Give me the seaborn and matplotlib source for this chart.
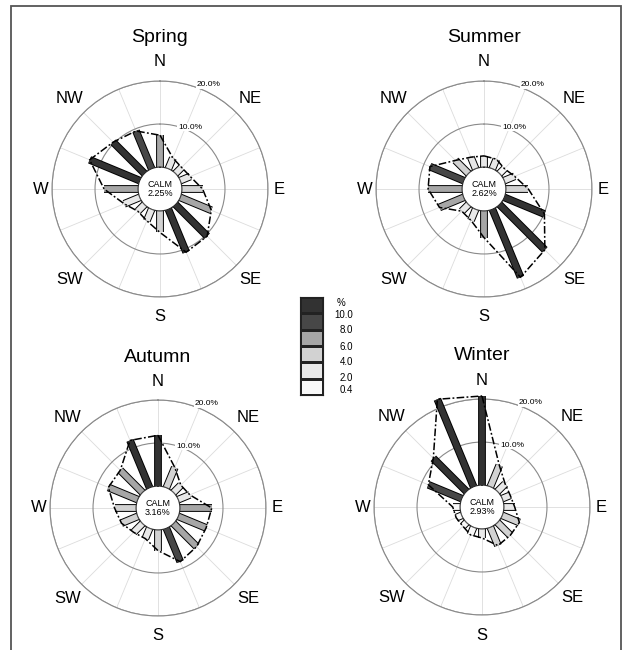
import numpy as np
import matplotlib
matplotlib.use("Agg")
import matplotlib.pyplot as plt
import matplotlib.patheffects as pe
from matplotlib.colors import ListedColormap
from matplotlib.patches import Rectangle
import seaborn as sns

# --- data (percent frequency per direction) ---
DIRECTIONS = ["N", "NNE", "NE", "ENE", "E", "ESE", "SE", "SSE",
              "S", "SSW", "SW", "WSW", "W", "WNW", "NW", "NNW"]
SEASONS = ["Spring", "Summer", "Autumn", "Winter"]
spring = [7.4, 2.7, 2.0, 2.5, 4.8, 7.8, 10.4, 10.8, 5.0, 2.9, 2.2, 3.9, 7.9, 12.6, 10.3, 9.5]
summer = [2.6, 2.4, 1.6, 2.6, 5.2, 10.1, 14.9, 17.1, 6.2, 2.8, 2.2, 6.1, 7.9, 8.5, 4.3, 2.9]
autumn = [11.8, 5.1, 2.4, 2.9, 7.4, 7.0, 7.6, 8.4, 4.8, 2.6, 2.9, 4.1, 5.0, 7.4, 7.3, 11.9]
winter = [20.7, 5.4, 2.5, 2.0, 2.5, 4.3, 4.2, 4.6, 2.1, 1.9, 1.2, 1.4, 1.7, 8.4, 10.9, 22.0]
calm = [2.25, 2.62, 3.16, 2.93]

COMPASS = ["N", "NE", "E", "SE", "S", "SW", "W", "NW"]
LEGEND_LABELS = ["10.0", "8.0", "6.0", "4.0", "2.0", "0.4"]
BIN_EDGES = [2, 4, 6, 8, 10]
SHADES = ["#f8f8f8", "#e8e8e8", "#d2d2d2", "#a6a6a6", "#474747", "#323232"]

# --- layout (pixels) ---
W, H = 633, 650
CENTERS = [(160, 189), (484, 189), (158, 508), (482, 507)]
R_PX = 108
R0 = 5.1  # calm hole expressed in % units
LABEL_DIST = [127, 128, 119, 128, 128, 128, 119, 128]


def shade(v):
    return SHADES[int(np.searchsorted(BIN_EDGES, v, side="right"))]


sns.set_style("white")
plt.rcParams["font.family"] = ["Liberation Sans", "DejaVu Sans"]
plt.rcParams["text.color"] = "black"

fig = plt.figure(figsize=(W / 100, H / 100), dpi=100)
fig.patch.set_facecolor("white")

theta = np.deg2rad(np.arange(16) * 22.5)
circle = np.linspace(0, 2 * np.pi, 361)

for (cx, cy), name, vals, c in zip(CENTERS, SEASONS, [spring, summer, autumn, winter], calm):
    ax = fig.add_axes([(cx - R_PX) / W, (H - cy - R_PX) / H, 2 * R_PX / W, 2 * R_PX / H],
                      projection="polar")
    ax.set_theta_zero_location("N")
    ax.set_theta_direction(-1)
    ax.set_rorigin(-R0)
    ax.set_ylim(0, 20)
    ax.set_xticks(theta)
    ax.set_xticklabels([])
    ax.set_yticks([10, 20])
    ax.set_yticklabels([])
    ax.set_axisbelow(True)
    ax.xaxis.grid(True, color="#dcdcdc", lw=0.6)
    ax.yaxis.grid(True, color="#8a8a8a", lw=0.8)
    ax.spines["polar"].set_color("#8a8a8a")
    ax.spines["polar"].set_linewidth(0.8)

    # bars
    for th, v in zip(theta, vals):
        ax.plot([th, th], [0, v], color=shade(v), lw=4.2, solid_capstyle="butt",
                zorder=4, clip_on=False,
                path_effects=[pe.Stroke(linewidth=5.6, foreground="black"), pe.Normal()])

    # envelope
    ax.plot(np.append(theta, theta[0]), np.append(vals, vals[0]), color="black",
            lw=1.1, ls=(0, (5, 1.5, 1.2, 1.5)), zorder=5, clip_on=False)

    # calm circle
    ax.plot(circle, np.zeros_like(circle), color="#333333", lw=0.8, zorder=6)
    ax.text(0.5, 0.5, f"CALM\n{c:.2f}%", transform=ax.transAxes, ha="center",
            va="center", fontsize=6.5, linespacing=1.1, zorder=7)

    # ring labels
    ax.text(np.deg2rad(26), 10.9, "10.0%", fontsize=6, ha="center", va="center",
            bbox=dict(fc="white", ec="none", pad=0.6), zorder=3)
    ax.text(np.deg2rad(25), 21.6, "20.0%", fontsize=6, ha="center", va="center",
            bbox=dict(fc="white", ec="none", pad=0.6), zorder=3)

    # compass labels
    for k, (lab, d) in enumerate(zip(COMPASS, LABEL_DIST)):
        a = np.deg2rad(k * 45)
        ax.text(0.5 + d * np.sin(a) / (2 * R_PX), 0.5 + d * np.cos(a) / (2 * R_PX), lab,
                transform=ax.transAxes, ha="center", va="center", fontsize=12)

    fig.text(cx / W, 1 - (cy - 151) / H, name, ha="center", va="center", fontsize=14)

# legend
lax = fig.add_axes([300 / W, (H - 395) / H, 23 / W, 98 / H])
levels = np.arange(len(SHADES))[::-1].reshape(-1, 1)
sns.heatmap(levels, cmap=ListedColormap(SHADES), vmin=-0.5, vmax=len(SHADES) - 0.5,
            cbar=False, linewidths=0.8, linecolor="#222222",
            xticklabels=False, yticklabels=False, ax=lax)
for s in lax.spines.values():
    s.set_visible(True)
    s.set_color("#222222")
    s.set_linewidth(0.8)
lax.text(1.8, 0.35, "%", ha="center", va="center", fontsize=7, clip_on=False)
for y, lab in zip([1.1, 2.05, 3.05, 4.0, 4.95, 5.7], LEGEND_LABELS):
    lax.text(2.3, y, lab, ha="right", va="center", fontsize=7, clip_on=False)

# outer frame
fig.patches.append(Rectangle((11 / W, -0.05), (621 - 11) / W, 1 - 6 / H + 0.05,
                             transform=fig.transFigure, fill=False,
                             edgecolor="#555555", lw=1.3))

fig.savefig("out.png", dpi=100)
